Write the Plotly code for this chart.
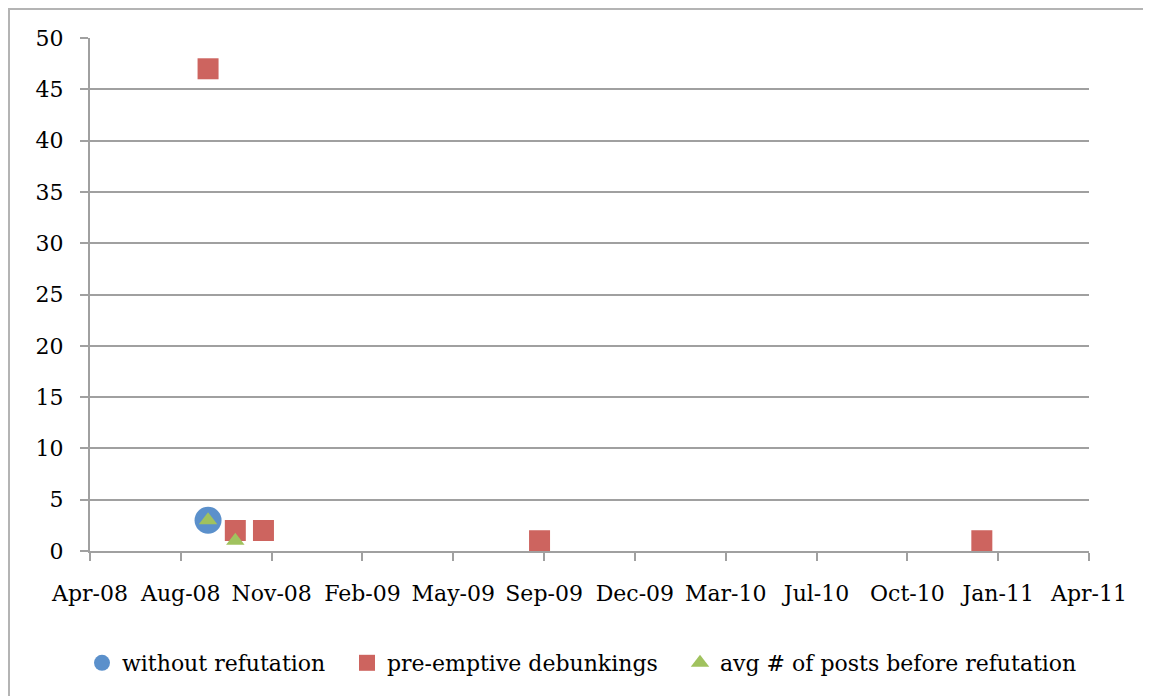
import plotly.graph_objects as go

# ---- data ----
without_dates = ["2008-09-01"]
without_vals = [3]

preemptive_dates = ["2008-09-01", "2008-10-01", "2008-11-01", "2009-09-01", "2011-01-01"]
preemptive_vals = [47, 2, 2, 1, 1]

avg_dates = ["2008-09-01", "2008-10-01"]
avg_vals = [3, 1]

series_names = ["without refutation", "pre-emptive debunkings", "avg # of posts before refutation"]

x_start = "2008-04-24"
x_end = "2011-04-29"
y_ticks = [0, 5, 10, 15, 20, 25, 30, 35, 40, 45, 50]

FONT = "DejaVu Serif"
GRID = "#A0A0A0"

# page is offset by the default 8px body margin; plot area in page px: x 90..1089, y 38..551
PL, PR, PT, PB = 90, 1089, 38, 551
OFF = 8
PW, PH = PR - PL, PB - PT


def px_x(p):
    return (p - PL) / PW


def px_y(p):
    return (PB - p) / PH


fig = go.Figure()
fig.add_trace(go.Scatter(
    x=without_dates, y=without_vals, mode="markers", name=series_names[0],
    marker=dict(symbol="circle", size=27, color="#5B90CB", line=dict(width=0)),
    legendwidth=220,
))
fig.add_trace(go.Scatter(
    x=preemptive_dates, y=preemptive_vals, mode="markers", name=series_names[1],
    marker=dict(symbol="square", size=21, color="#CD645F", line=dict(width=0)),
    legendwidth=288,
))
fig.add_trace(go.Scatter(
    x=avg_dates, y=avg_vals, mode="markers", name=series_names[2],
    marker=dict(symbol="triangle-up", size=16, color="#A0C25E", line=dict(width=0)),
    legendwidth=360,
))

fig.update_layout(
    width=1151, height=696,
    margin=dict(l=PL - OFF, r=1151 + OFF - PR, t=PT - OFF, b=696 + OFF - PB, pad=0),
    paper_bgcolor="white", plot_bgcolor="white",
    font=dict(family=FONT, size=22, color="black"),
    showlegend=True,
    legend=dict(
        orientation="h", x=px_x(82), xanchor="left", y=px_y(663), yanchor="middle",
        font=dict(family=FONT, size=22, color="black"),
        bgcolor="rgba(0,0,0,0)", itemclick=False,
    ),
    xaxis=dict(
        type="date", range=[x_start, x_end + " 00:00:01"],
        tick0=x_start, dtick=100 * 86400000, tickformat="%b-%y",
        showgrid=False, zeroline=False,
        showline=True, linecolor=GRID, linewidth=2,
        ticks="outside", ticklen=8, tickwidth=2, tickcolor=GRID,
        ticklabelstandoff=14,
        tickfont=dict(family=FONT, size=22, color="black"),
    ),
    yaxis=dict(
        range=[0, 50], tickvals=y_ticks,
        showgrid=True, gridcolor=GRID, gridwidth=2, zeroline=False,
        showline=True, linecolor=GRID, linewidth=2,
        ticks="outside", ticklen=8, tickwidth=2, tickcolor=GRID,
        ticklabelstandoff=12,
        tickfont=dict(family=FONT, size=22, color="black"),
    ),
    shapes=[dict(
        type="rect", xref="paper", yref="paper",
        x0=px_x(9), x1=px_x(1200),
        y0=px_y(760), y1=px_y(9),
        line=dict(color="#B4B4B4", width=2), fillcolor="rgba(0,0,0,0)", layer="below",
    )],
)

fig.write_html("out.html")
